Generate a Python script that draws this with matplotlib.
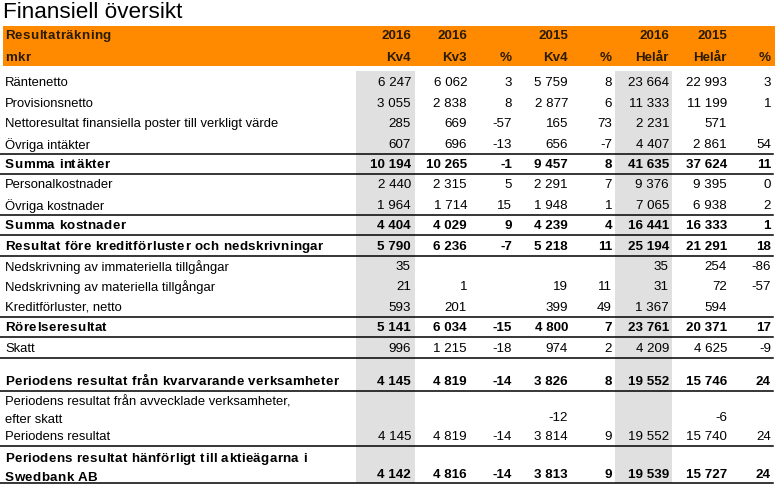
import matplotlib
matplotlib.use("Agg")
import matplotlib.pyplot as plt
from matplotlib.patches import Rectangle
from matplotlib.font_manager import FontProperties
from matplotlib.textpath import TextToPath

plt.rcParams["font.family"] = ["Liberation Sans", "DejaVu Sans"]

# --- table content -------------------------------------------------------
TITLE = "Finansiell översikt"
HEAD_TOP = ["2016", "2016", "", "2015", "", "2016", "2015", ""]
HEAD_BOTTOM = ["Kv4", "Kv3", "%", "Kv4", "%", "Helår", "Helår", "%"]

labels = [
    "Räntenetto",
    "Provisionsnetto",
    "Nettoresultat finansiella poster till verkligt värde",
    "Övriga intäkter",
    "Summa intäkter",
    "Personalkostnader",
    "Övriga kostnader",
    "Summa kostnader",
    "Resultat före kreditförluster och nedskrivningar",
    "Nedskrivning av immateriella tillgångar",
    "Nedskrivning av materiella tillgångar",
    "Kreditförluster, netto",
    "Rörelseresultat",
    "Skatt",
    "",
    "Periodens resultat från kvarvarande verksamheter",
    "Periodens resultat från avvecklade verksamheter,\nefter skatt",
    "Periodens resultat",
    "Periodens resultat hänförligt till aktieägarna i\nSwedbank AB",
]

kv4_2016 = [6247, 3055, 285, 607, 10194, 2440, 1964, 4404, 5790, 35, 21, 593,
            5141, 996, None, 4145, None, 4145, 4142]
kv3_2016 = [6062, 2838, 669, 696, 10265, 2315, 1714, 4029, 6236, None, 1, 201,
            6034, 1215, None, 4819, None, 4819, 4816]
pct_kv3 = [3, 8, -57, -13, -1, 5, 15, 9, -7, None, None, None,
           -15, -18, None, -14, None, -14, -14]
kv4_2015 = [5759, 2877, 165, 656, 9457, 2291, 1948, 4239, 5218, None, 19, 399,
            4800, 974, None, 3826, -12, 3814, 3813]
pct_kv4 = [8, 6, 73, -7, 8, 7, 1, 4, 11, None, 11, 49,
           7, 2, None, 8, None, 9, 9]
fy_2016 = [23664, 11333, 2231, 4407, 41635, 9376, 7065, 16441, 25194, 35, 31, 1367,
           23761, 4209, None, 19552, None, 19552, 19539]
fy_2015 = [22993, 11199, 571, 2861, 37624, 9395, 6938, 16333, 21291, 254, 72, 594,
           20371, 4625, None, 15746, -6, 15740, 15727]
pct_fy = [3, 1, None, 54, 11, 0, 2, 1, 18, -86, -57, None,
          17, -9, None, 24, None, 24, 24]

columns = [kv4_2016, kv3_2016, pct_kv3, kv4_2015, pct_kv4, fy_2016, fy_2015, pct_fy]

# --- layout / style ------------------------------------------------------
W, H = 775, 488
ORANGE = "#ff8a00"
GREY = "#e0e0e0"
HEAD_TXT = "#2b1b00"
FS_NUM = 9.6      # figures
FS_LBL = 9.35     # plain row labels
FS_BOLD = 9.6     # bold labels, drawn letter-spaced like the original
TRACK = 0.33      # extra px between letters of bold labels

bold_rows = {4, 7, 8, 12, 15, 18}
rule_above = {4, 7, 12}
rule_below = {4, 7, 8, 12, 13, 15, 17, 18}
row_h = [20.4] * 14 + [13.4, 20.4, 34.6, 20.4, 37.0]
col_right = [411, 467, 512, 568, 612, 669, 727, 771]
shaded_cols = [(356, 415), (615, 672)]
body_top = 72

_ttp = TextToPath()
_bold_prop = FontProperties(family="Liberation Sans", weight="bold", size=FS_BOLD)


def fmt(v):
    if v is None:
        return ""
    return f"{v:,}".replace(",", " ")


def text_px(s, prop):
    w, _, _ = _ttp.get_text_width_height_descent(s, prop, ismath=False)
    return w * 100 / 72


def tracked(ax, x, y, s, color="black"):
    """Bold text with extra letter spacing (one glyph per call)."""
    bar = text_px("|", _bold_prop)
    for i, ch in enumerate(s):
        if ch == " ":
            continue
        xi = x + (text_px(s[:i] + "|", _bold_prop) - bar if i else 0) + i * TRACK
        ax.text(xi, y, ch, fontproperties=_bold_prop, color=color,
                va="center", ha="left")


fig = plt.figure(figsize=(W / 100, H / 100), dpi=100)
ax = fig.add_axes([0, 0, 1, 1])
ax.set_xlim(0, W)
ax.set_ylim(H, 0)
ax.axis("off")

ax.text(3, 12.5, TITLE, fontsize=16.2, va="center", ha="left")

# orange header band
ax.add_patch(Rectangle((3, 26), W - 3, 40, color=ORANGE, lw=0))
tracked(ax, 5, 36, "Resultaträkning", HEAD_TXT)
tracked(ax, 5, 58, "mkr", HEAD_TXT)
for x, t1, t2 in zip(col_right, HEAD_TOP, HEAD_BOTTOM):
    ax.text(x, 36, t1, fontsize=FS_NUM, weight="bold", color=HEAD_TXT, ha="right", va="center")
    ax.text(x, 58, t2, fontsize=FS_NUM, weight="bold", color=HEAD_TXT, ha="right", va="center")

# row boundaries
tops = [body_top]
for h in row_h:
    tops.append(tops[-1] + h)
bottom = tops[-1]

for x0, x1 in shaded_cols:
    ax.add_patch(Rectangle((x0, 71), x1 - x0, bottom - 71, color=GREY, lw=0, zorder=0))

for i, label in enumerate(labels):
    bold = i in bold_rows
    weight = "bold" if bold else "normal"
    lines = label.split("\n")
    multi = len(lines) > 1
    y_lbl = tops[i + 1] - (5.5 if multi else 9)
    y_val = tops[i + 1] - (8 if multi else 9)
    for j, line in enumerate(lines):
        y = y_lbl - (len(lines) - 1 - j) * 18.5
        if bold:
            tracked(ax, 5, y, line)
        else:
            ax.text(5, y, line, fontsize=FS_LBL, va="center", ha="left")
    for x, col in zip(col_right, columns):
        ax.text(x, y_val, fmt(col[i]), fontsize=FS_NUM, weight=weight,
                va="center", ha="right")
    if i in rule_above:
        ax.plot([0, 773], [tops[i], tops[i]], color="black", lw=1.1)
    if i in rule_below:
        ax.plot([0, 773], [tops[i + 1], tops[i + 1]], color="black", lw=1.1)

fig.savefig("out.png", dpi=100)
